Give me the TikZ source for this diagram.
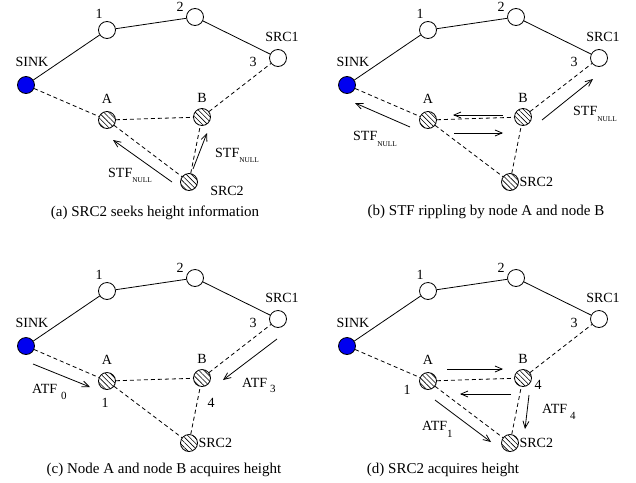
\documentclass[tikz,border=0pt]{standalone}
\usepackage{fontspec}
\setmainfont{Liberation Serif}
\usetikzlibrary{arrows.meta,patterns.meta}

\tikzset{
  netnode/.style={circle, draw, line width=0.8pt, minimum size=17pt, inner sep=0pt},
  plainnode/.style={netnode, fill=white},
  sinknode/.style={netnode, fill={rgb,255:red,0;green,0;blue,240}},
  hatchnode/.style={netnode, pattern={Lines[angle=-45,distance=3.6pt,line width=0.6pt]}},
  link/.style={line width=0.8pt},
  radio/.style={line width=0.8pt, dash pattern=on 4pt off 3pt},
  msg/.style={line width=0.8pt, -{Straight Barb[length=7pt,width=6pt]}},
  lbl/.style={font=\fontsize{14}{14}\selectfont, inner sep=0pt},
  captext/.style={font=\fontsize{15}{15}\selectfont, inner sep=0pt, anchor=base},
}

% lowered index text: #1 drop, #2 size, #3 text
\newcommand\dropidx[3]{\raisebox{-#1}{\fontsize{#2}{#2}\selectfont #3}}

% the common network of one panel; #1 is the name prefix
\newcommand\drawnet[1]{%
  \node[sinknode]  (#1sink) at (26,85)  {};
  \node[plainnode] (#1n1)   at (107,30) {};
  \node[plainnode] (#1n2)   at (195,17) {};
  \node[plainnode] (#1src1) at (278,58) {};
  \node[hatchnode] (#1A)    at (107,120) {};
  \node[hatchnode] (#1B)    at (202,117) {};
  \node[hatchnode] (#1src2) at (189,182) {};
  \draw[link] (#1sink) -- (#1n1) -- (#1n2) -- (#1src1);
  \draw[radio] (#1sink) -- (#1A) -- (#1B) -- (#1src1);
  \draw[radio] (#1A) -- (#1src2) -- (#1B);
  \node[lbl] (#1t1)    at (99,14)  {1};
  \node[lbl] (#1t2)    at (180,7)  {2};
  \node[lbl] (#1tsrc1) at (282,37) {SRC1};
  \node[lbl] (#1t3)    at (253,62) {3};
  \node[lbl] (#1tsink) at (32,62)  {SINK};
  \node[lbl] (#1tA)    at (107,99) {A};
  \node[lbl] (#1tB)    at (202,98) {B};
}

\begin{document}
\begin{tikzpicture}[x=1pt,y=-1pt]
\useasboundingbox[fill=white] (0,0) rectangle (636,482);

% ---------- (a) ----------
\begin{scope}
  \drawnet{a}
  \node[lbl] (atsrc2) at (227,191) {SRC2};
\end{scope}
\coordinate (aa1s) at (172,182); \coordinate (aa1e) at (113,140);
\coordinate (aa2s) at (193,169); \coordinate (aa2e) at (207,133);
\draw[msg] (aa1s) -- (aa1e);
\draw[msg] (aa2s) -- (aa2e);
\node[lbl, anchor=base west] (astf1) at (108,177) {STF\dropidx{5pt}{7.3}{NULL}};
\node[lbl, anchor=base west] (astf2) at (215,157) {STF\dropidx{5pt}{7.3}{NULL}};
\node[captext] (acap) at (155,216) {(a) SRC2 seeks height information};

% ---------- (b) ----------
\begin{scope}[shift={(321,0)}]
  \drawnet{b}
  \node[lbl, anchor=west] (btsrc2) at ([xshift=0.5pt]bsrc2.east) {SRC2};
\end{scope}
\coordinate (ba1s) at (410,127); \coordinate (ba1e) at (355,103);
\coordinate (ba2s) at (542,120); \coordinate (ba2e) at (593,79);
\coordinate (ba3s) at (503,115); \coordinate (ba3e) at (453,115);
\coordinate (ba4s) at (454,133); \coordinate (ba4e) at (503,133);
\draw[msg] (ba1s) -- (ba1e);
\draw[msg] (ba2s) -- (ba2e);
\draw[msg] (ba3s) -- (ba3e);
\draw[msg] (ba4s) -- (ba4e);
\node[lbl, anchor=base west] (bstf1) at (353,140) {STF\dropidx{6pt}{7.3}{NULL}};
\node[lbl, anchor=base west] (bstf2) at (573,115) {STF\dropidx{6pt}{7.3}{NULL}};
\node[captext] (bcap) at (486,215) {(b) STF rippling by node A and node B};

% ---------- (c) ----------
\begin{scope}[shift={(0,261)}]
  \drawnet{c}
  \node[lbl, anchor=west] (ctsrc2) at ([xshift=0.5pt]csrc2.east) {SRC2};
  \node[lbl] (chA) at (105,142) {1};
  \node[lbl] (chB) at (211,142) {4};
\end{scope}
\coordinate (ca1s) at (33,364);  \coordinate (ca1e) at (90,387);
\coordinate (ca2s) at (277,339); \coordinate (ca2e) at (223,380);
\draw[msg] (ca1s) -- (ca1e);
\draw[msg] (ca2s) -- (ca2e);
\node[lbl, anchor=base west] (catf0) at (32,393) {ATF\hspace{4pt}\dropidx{6pt}{11}{0}};
\node[lbl, anchor=base west] (catf3) at (242,387) {ATF\hspace{3pt}\dropidx{5pt}{11}{3}};
\node[captext] (ccap) at (164,473) {(c) Node A and node B acquires height};

% ---------- (d) ----------
\begin{scope}[shift={(321,261)}]
  \drawnet{d}
  \node[lbl, anchor=west] (dtsrc2) at ([xshift=0.5pt]dsrc2.east) {SRC2};
\end{scope}
\node[lbl] (dhA) at (407,390) {1};
\node[lbl] (dhB) at (538,385) {4};
\coordinate (da1s) at (447,369); \coordinate (da1e) at (503,369);
\coordinate (da2s) at (511,394); \coordinate (da2e) at (460,394);
\coordinate (da3s) at (529,395); \coordinate (da3e) at (525,429);
\coordinate (da4s) at (435,400); \coordinate (da4e) at (491,442);
\draw[msg] (da1s) -- (da1e);
\draw[msg] (da2s) -- (da2e);
\draw[msg] (da3s) -- (da3e);
\draw[msg] (da4s) -- (da4e);
\node[lbl, anchor=base west] (datf4) at (542,413) {ATF\hspace{3pt}\dropidx{6pt}{11}{4}};
\node[lbl, anchor=base west] (datf1) at (422,430) {ATF\dropidx{7pt}{11}{1}};
\node[captext] (dcap) at (443,473) {(d) SRC2 acquires height};
\end{tikzpicture}
\end{document}
